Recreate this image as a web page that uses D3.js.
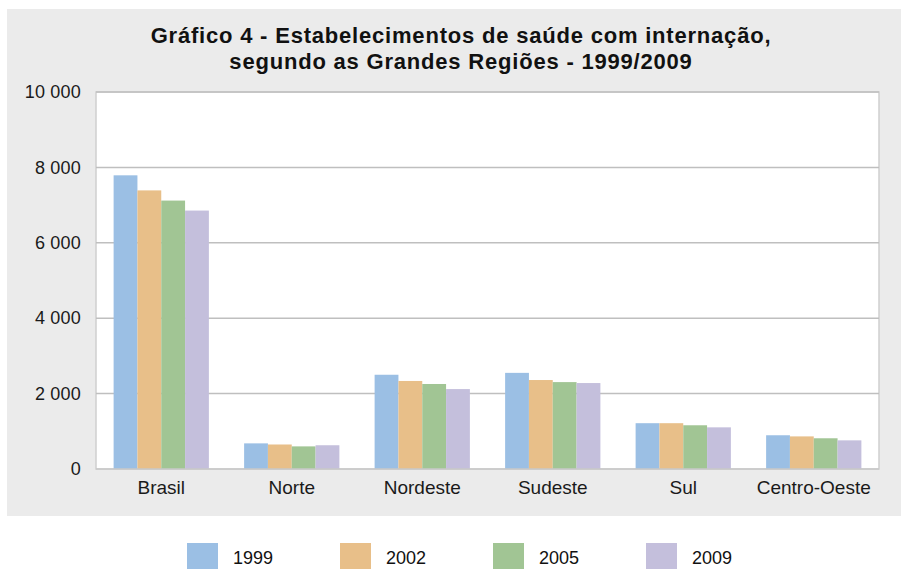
<!DOCTYPE html>
<html><head><meta charset="utf-8">
<script src="https://cdn.jsdelivr.net/npm/d3@7"></script>
<style>body{margin:0;background:#fff}svg{display:block}</style>
</head><body>
<svg id="c" width="901" height="569"></svg>
<script>
const categories = ["Brasil","Norte","Nordeste","Sudeste","Sul","Centro-Oeste"];
const seriesNames = ["1999","2002","2005","2009"];
const v1999 = [7790, 680, 2500, 2550, 1215, 895];
const v2002 = [7390, 650, 2335, 2360, 1215, 865];
const v2005 = [7120, 600, 2255, 2305, 1160, 815];
const v2009 = [6855, 630, 2120, 2280, 1105, 760];
const yTicks = [0,2000,4000,6000,8000,10000];
const titleLines = ["Gráfico 4 - Estabelecimentos de saúde com internação,","segundo as Grandes Regiões - 1999/2009"];
const colors = ["#9bbfe4","#e8bf89","#a1c594","#c4bfdc"];

const seriesVals = [v1999,v2002,v2005,v2009];
const svg = d3.select("#c");
const font = "'Liberation Sans', Arial, sans-serif";

svg.append("rect").attr("x",7).attr("y",9).attr("width",894).attr("height",507).attr("fill","#ebebeb");

const m = {l:96,r:879,t:92,b:469};
svg.append("rect").attr("x",m.l).attr("y",m.t).attr("width",m.r-m.l).attr("height",m.b-m.t)
  .attr("fill","#fff").attr("stroke","#cfcfcf").attr("stroke-width",1.5);

const y = d3.scaleLinear().domain([0,10000]).range([m.b,m.t]);
const x0 = d3.scaleBand().domain(categories).range([m.l,m.r]).paddingInner(0.27).paddingOuter(0.135);
const x1 = d3.scaleBand().domain(seriesNames).range([0,x0.bandwidth()]);

const fmt = d => d3.format(",")(d).replace(/,/g," ");
// gridlines
svg.append("g").selectAll("line").data(yTicks.filter(d=>d>0)).join("line")
  .attr("x1",m.l).attr("x2",m.r).attr("y1",d=>y(d)).attr("y2",d=>y(d))
  .attr("stroke","#bfbfbf").attr("stroke-width",1.5);

// y axis labels
const yAxis = d3.axisLeft(y).tickValues(yTicks).tickFormat(fmt).tickSize(0).tickPadding(15);
const ga = svg.append("g").attr("transform",`translate(${m.l},0)`).call(yAxis);
ga.select(".domain").remove();
ga.selectAll("text").attr("font-family",font).attr("font-size",18).attr("letter-spacing","0.2px").attr("fill","#1a1a1a");

// bars
const groups = svg.append("g").selectAll("g").data(categories).join("g")
  .attr("transform",d=>`translate(${x0(d)},0)`);
groups.selectAll("rect").data((c,i)=>seriesNames.map((s,j)=>({s,j,v:seriesVals[j][i]}))).join("rect")
  .attr("x",d=>x1(d.s)).attr("width",x1.bandwidth())
  .attr("y",d=>y(d.v)).attr("height",d=>y(0)-y(d.v)).attr("fill",d=>colors[d.j]);

// baseline
svg.append("line").attr("x1",m.l).attr("x2",m.r).attr("y1",y(0)).attr("y2",y(0)).attr("stroke","#c8c8c8").attr("stroke-width",1.5);

// x axis labels
const xAxis = d3.axisBottom(x0).tickSize(0).tickPadding(12);
const gx = svg.append("g").attr("transform",`translate(0,${m.b})`).call(xAxis);
gx.select(".domain").remove();
gx.selectAll("text").attr("font-family",font).attr("font-size",19).attr("fill","#1a1a1a");

// title
svg.append("g").selectAll("text").data(titleLines).join("text")
  .attr("x",461).attr("y",(d,i)=>43+i*26).attr("text-anchor","middle")
  .attr("font-family","'Liberation Sans', Arial, sans-serif").attr("font-weight","bold")
  .attr("font-size",22).attr("letter-spacing","0.8px").attr("fill","#111").text(d=>d);

// legend
const lg = svg.append("g").selectAll("g").data(seriesNames).join("g")
  .attr("transform",(d,i)=>`translate(${187+i*153},543)`);
lg.append("rect").attr("width",31).attr("height",26).attr("fill",(d,i)=>colors[i]);
lg.append("text").attr("x",46).attr("y",21).attr("font-family",font).attr("font-size",18).attr("fill","#111").text(d=>d);
</script>
</body></html>
